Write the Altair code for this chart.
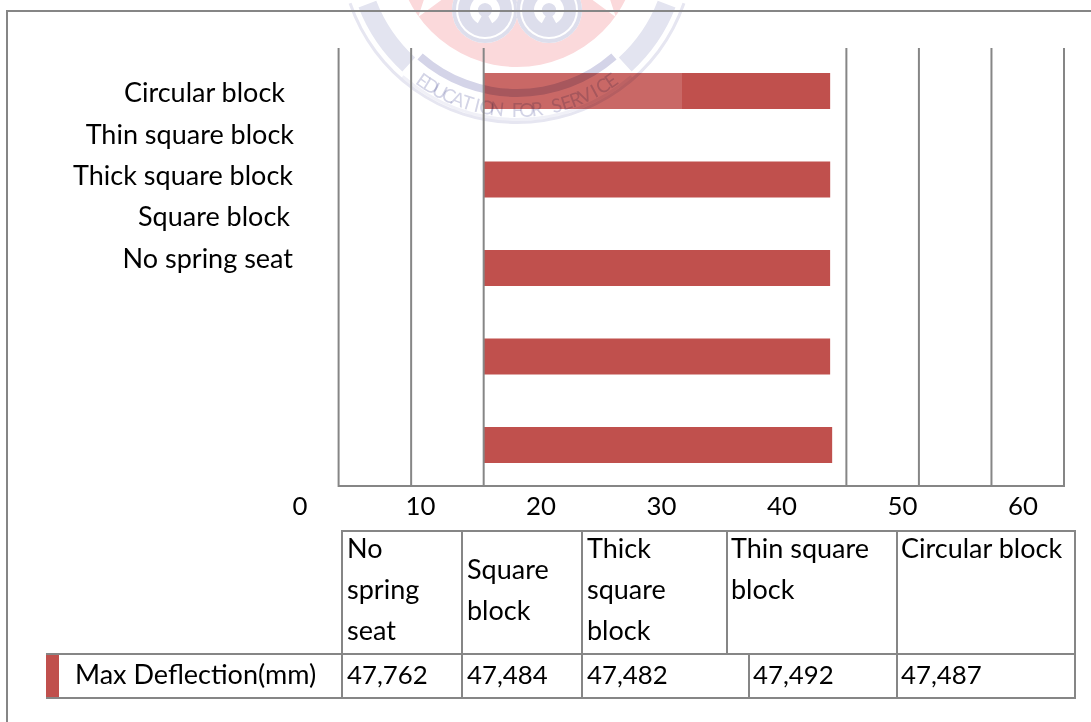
import altair as alt
import numpy as np
import pandas as pd

# Chart values
categories = ["Circular block", "Thin square block", "Thick square block", "Square block", "No spring seat"]
deflection = [47.487, 47.492, 47.482, 47.484, 47.762]
tick_values = [0, 10, 20, 30, 40, 50, 60]
series_name = "Max Deflection(mm)"

# Table column order runs opposite to the bars
table_order = ["No spring seat", "Square block", "Thick square block", "Thin square block", "Circular block"]

FONT = "Lato"
FONT_SIZE = 27
DIGIT_SIZE = 25.8
INK = "#000000"
LINE = "#868686"
BAR = "#C0504D"
PINK = "#FBD9DB"
SLATE = "#DDDEEC"

def text_layer(rows, align="left", size=FONT_SIZE, color=INK):
    return alt.Chart(pd.DataFrame(rows, columns=["x", "y", "t"])).mark_text(
        align=align, baseline="middle", font=FONT, fontSize=size, color=color
    ).encode(
        x=alt.X("x:Q", scale=None, axis=None),
        y=alt.Y("y:Q", scale=None, axis=None),
        text="t:N",
    )

def segments(rows, width=2, color=LINE):
    return alt.Chart(pd.DataFrame(rows, columns=["x", "x2", "y", "y2"])).mark_rule(
        stroke=color, strokeWidth=width
    ).encode(
        x=alt.X("x:Q", scale=None, axis=None),
        x2="x2:Q",
        y=alt.Y("y:Q", scale=None, axis=None),
        y2="y2:Q",
    )

def arc(cx, cy, r0, r1, a0, a1, color, blend="multiply"):
    opts = dict(blend=blend) if blend else {}
    return alt.Chart(pd.DataFrame({"k": [0]})).mark_arc(
        radius=r1, radius2=r0, theta=a0, theta2=a1, fill=color, stroke=None, **opts
    ).encode(x=alt.value(cx), y=alt.value(cy))

# Bars, on a value scale placed inside the frame
bars = alt.Chart(pd.DataFrame({"category": categories, "value": deflection})).mark_bar(color=BAR).encode(
    x=alt.X("value:Q", axis=None, scale=alt.Scale(domain=[0, 60], range=[483.5, 921.5], nice=False, zero=True)),
    y=alt.Y("category:N", axis=None, sort=categories,
            scale=alt.Scale(domain=categories, range=[46.75, 489.25], paddingInner=0.593, paddingOuter=0.2965)),
)

# Pale wash across the top bar
wash = alt.Chart(pd.DataFrame({"k": [0]})).mark_rect(color="white", opacity=0.14).encode(
    x=alt.value(484), x2=alt.value(682), y=alt.value(73), y2=alt.value(109)
)

# University crest behind the plot
CX, CY = 517, -54
crest = []
crest.append(arc(CX, CY, 0, 121, 0, 2 * np.pi, PINK))
star_pts = []
for i in range(10):
    r = 1.0 if i % 2 == 0 else 0.38
    a = i * np.pi / 5
    star_pts.append((r * np.sin(a), -r * np.cos(a)))
star_path = "M" + " L".join(f"{x:.3f},{y:.3f}" for x, y in star_pts) + " Z"
crest.append(alt.Chart(pd.DataFrame({"k": [0]})).mark_point(
    shape=star_path, filled=True, fill="white", stroke=None, opacity=1, size=4 * 168 ** 2
).encode(x=alt.value(517), y=alt.value(-119)))
for disc_x in (485, 549):
    crest.append(arc(disc_x, 10, 0, 33, 0, 2 * np.pi, "#FFFFFF", blend=None))
    crest.append(arc(disc_x, 10, 29, 33, 0, 2 * np.pi, SLATE, blend=None))
for disc_x in (485, 549):
    crest.append(arc(disc_x, 10, 0, 27, 0, 2 * np.pi, SLATE, blend=None))
    crest.append(arc(disc_x, 10, 7, 15, np.pi + 0.5, 3 * np.pi - 0.5, "#FFFFFF", blend=None))
# Wings and ribbon
for sign in (-1, 1):
    lo, hi = sorted((np.pi + sign * 0.74, np.pi + sign * 1.2))
    crest.append(arc(CX, CY, 151, 170, lo, hi, "#E3E4F0"))
crest.append(arc(CX, CY, 175, 178, np.pi - 1.24, np.pi + 1.24, "#E6E6F1"))
crest.append(arc(CX, CY, 143, 151, np.pi - 0.72, np.pi + 0.72, "#D4D4E8"))
crest.append(arc(CX, CY, 172, 175, np.pi - 0.72, np.pi + 0.72, "#F0F0F7"))

motto = "EDUCATION FOR SERVICE"
motto_rows = []
for i, ch in enumerate(motto):
    phi = np.radians(35 - 70 * i / (len(motto) - 1))
    motto_rows.append({
        "x": CX - 165 * np.sin(phi),
        "y": CY + 165 * np.cos(phi),
        "a": (np.degrees(phi)) % 360,
        "t": ch,
    })
crest.append(alt.Chart(pd.DataFrame(motto_rows)).mark_text(
    font=FONT, fontSize=19, color="#D3D4E6", baseline="middle", align="center", blend="multiply"
).encode(
    x=alt.X("x:Q", scale=None, axis=None),
    y=alt.Y("y:Q", scale=None, axis=None),
    angle=alt.Angle("a:Q", scale=None),
    text="t:N",
))

# Page frame around the chart
frame = segments([(7, 1091, 11, 11), (7, 7, 10, 722)])

# Vertical gridlines, counted in major steps across the plot
grid_steps = [0, 1, 2, 7, 8, 9, 10]
grid = alt.Chart(pd.DataFrame({"step": grid_steps})).mark_rule(stroke=LINE, strokeWidth=2).encode(
    x=alt.X("step:Q", axis=None, scale=alt.Scale(domain=[0, 10], range=[338.6, 1064], nice=False, zero=False)),
    y=alt.value(48),
    y2=alt.value(487),
)
baseline = segments([(338, 1065, 486, 486)])

# Tick labels along the value axis
ticks = alt.Chart(pd.DataFrame({"tick": tick_values})).mark_text(
    baseline="middle", align="center", font=FONT, fontSize=DIGIT_SIZE, color=INK
).encode(
    x=alt.X("tick:Q", axis=None, scale=alt.Scale(domain=[0, 60], range=[300, 1023], nice=False, zero=False)),
    y=alt.value(507),
    text="tick:Q",
)

# Category labels on the left
cat_right = [285, 294, 293, 290, 293]
cat_y = [94, 136, 177, 218, 260]
cat_labels = text_layer(list(zip(cat_right, cat_y, categories)), align="right")

# Data table under the plot
table_lines = segments([
    (341, 1076, 531, 531), (46, 1076, 654, 654), (46, 1076, 698, 698),
    (342, 342, 530, 699), (462, 462, 530, 699), (582, 582, 530, 699),
    (727, 727, 530, 654), (749, 749, 654, 699), (897, 897, 530, 699), (1075, 1075, 530, 699),
])
swatch = alt.Chart(pd.DataFrame({"k": [0]})).mark_rect(color=BAR).encode(
    x=alt.value(46), x2=alt.value(59), y=alt.value(655), y2=alt.value(697)
)
header_x = [347, 467, 587, 731, 901]
value_x = [347, 467, 587, 753, 901]
header_lines = [["No", "spring", "seat"], ["Square", "block"], ["Thick", "square", "block"], ["Thin square", "block"], ["Circular block"]]
header_y = [[550, 591, 632], [571, 612], [550, 591, 632], [550, 591], [550]]
header_rows = []
for hx, lines, ys in zip(header_x, header_lines, header_y):
    for line, y in zip(lines, ys):
        header_rows.append((hx, y, line))
table_values = [deflection[categories.index(c)] for c in table_order]
value_rows = [(vx, 676, f"{v:.3f}".replace(".", ",")) for vx, v in zip(value_x, table_values)]
cells = text_layer(header_rows + [(75, 676, series_name)])
value_cells = text_layer(value_rows, size=DIGIT_SIZE)

chart = alt.layer(
    bars, wash, *crest, frame, grid, baseline, ticks, cat_labels, table_lines, swatch, cells, value_cells
).resolve_scale(x="independent", y="independent").properties(
    width=1091, height=722, padding=0, autosize=alt.AutoSizeParams(type="none"), background="white"
).configure_view(stroke=None)

chart.save("out.html", embed_options={"renderer": "svg", "actions": False})
